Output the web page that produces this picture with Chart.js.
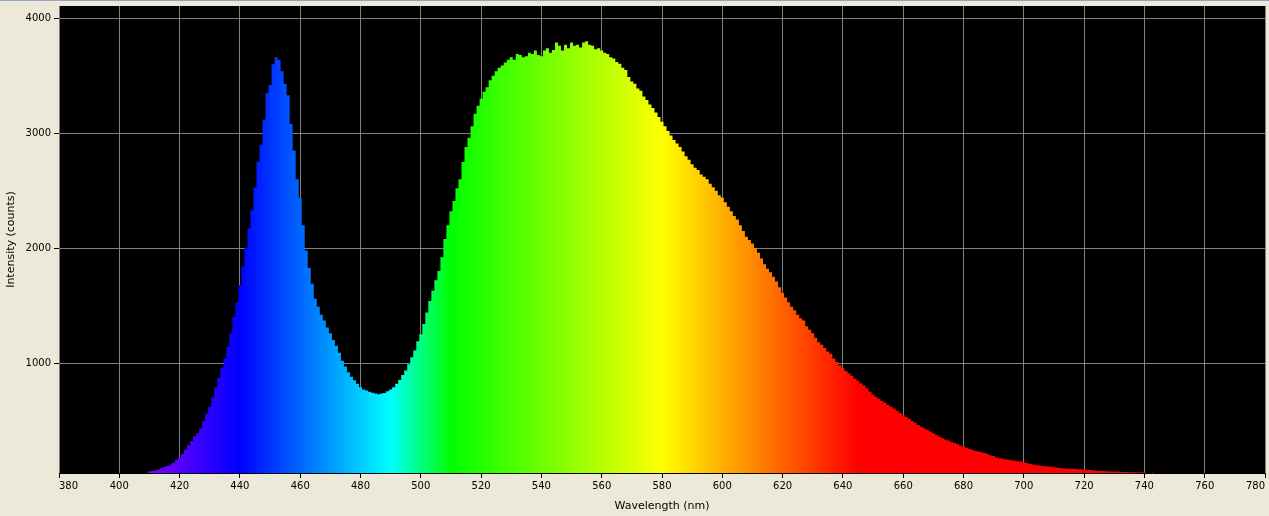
<!DOCTYPE html>
<html>
<head>
<meta charset="utf-8">
<script src="https://cdn.jsdelivr.net/npm/chart.js@4/dist/chart.umd.min.js"></script>
<style>
  html, body { margin: 0; padding: 0; background: #ECE9D8; }
  #wrap { position: relative; width: 1269px; height: 516px; }
  #topline { position: absolute; left: 0; top: 0; width: 1269px; height: 1px; background: #8EA4C8; }
</style>
</head>
<body>
<div id="wrap">
  <canvas id="specChart" width="1269" height="516"></canvas>
  <div id="topline"></div>
</div>
<script>
// ======================================================
// spectrum data (counts per nm)
// ======================================================
const xTicks = [380, 400, 420, 440, 460, 480, 500, 520, 540, 560, 580, 600, 620, 640, 660, 680, 700, 720, 740, 760, 780];
const yTicks = [1000, 2000, 3000, 4000];

// 409 .. 465 nm  (blue LED peak)
const blueStart = 409;
const blueBand = [45, 55, 60, 68, 74, 84, 95, 105, 118, 135, 158, 180, 210, 248, 285, 322, 365, 390, 430, 495,
  560, 620, 700, 790, 870, 960, 1040, 1140, 1260, 1400, 1530, 1680, 1840, 2000, 2170, 2330, 2530, 2750, 2900, 3120,
  3350, 3420, 3600, 3660, 3640, 3540, 3430, 3330, 3080, 2850, 2600, 2440, 2200, 1980, 1830, 1690, 1560];

// 466 .. 512 nm  (valley)
const dipStart = 466;
const dipBand = [1490, 1420, 1370, 1310, 1260, 1200, 1150, 1090, 1020, 970, 920, 880, 850, 820, 790, 770, 760,
  750, 742, 735, 728, 735, 740, 755, 770, 790, 820, 852, 895, 935, 990, 1050, 1110, 1190, 1250, 1340, 1440, 1540,
  1630, 1720, 1800, 1920, 2080, 2200, 2320, 2410, 2520];

// 513 .. 600 nm  (phosphor hump)
const greenStart = 513;
const greenBand = [2600, 2750, 2880, 2960, 3060, 3170, 3240, 3300, 3360, 3400, 3460, 3500, 3540, 3570, 3590, 3615,
  3640, 3660, 3640, 3690, 3680, 3660, 3670, 3700, 3690, 3720, 3680, 3670, 3720, 3740, 3700, 3725, 3790, 3760, 3720,
  3770, 3740, 3790, 3760, 3770, 3745, 3790, 3800, 3770, 3760, 3730, 3740, 3720, 3700, 3690, 3660, 3650, 3620, 3605,
  3570, 3550, 3490, 3450, 3430, 3390, 3370, 3320, 3290, 3250, 3220, 3180, 3140, 3100, 3060, 3020, 2980, 2940, 2910,
  2880, 2840, 2800, 2770, 2730, 2700, 2680, 2640, 2620, 2600, 2560, 2530, 2500, 2460, 2440];

// 601 .. 743 nm  (red tail)
const redStart = 601;
const redTail = [2400, 2360, 2320, 2280, 2250, 2200, 2150, 2100, 2070, 2040, 2000, 1960, 1910, 1860, 1820, 1790,
  1750, 1710, 1660, 1610, 1570, 1530, 1490, 1460, 1420, 1390, 1370, 1320, 1290, 1260, 1220, 1180, 1160, 1130, 1100,
  1080, 1040, 1010, 980, 955, 930, 910, 890, 865, 845, 825, 805, 780, 750, 725, 705, 690, 670, 655, 635, 620, 605,
  585, 565, 548, 530, 515, 495, 480, 460, 445, 432, 420, 405, 390, 375, 360, 348, 335, 325, 313, 305, 295, 282, 272,
  262, 252, 243, 236, 230, 224, 218, 208, 195, 190, 178, 172, 166, 160, 158, 154, 150, 146, 142, 136, 130, 124, 118,
  113, 108, 105, 102, 100, 98, 94, 90, 87, 85, 83, 81, 79, 77, 76, 75, 72, 70, 70, 66, 63, 61, 60, 58, 58, 56, 55,
  55, 54, 52, 51, 50, 50, 50, 49, 49, 48, 44, 44, 47];

const toPoints = (start, arr) => arr.map((v, i) => ({ x: start + i, y: v }));
const spectrum = [
  ...toPoints(blueStart, blueBand),
  ...toPoints(dipStart, dipBand),
  ...toPoints(greenStart, greenBand),
  ...toPoints(redStart, redTail)
];

// wavelength -> colour stops (visible spectrum)
const colourStops = [
  [380, '#FF00FF'], [440, '#0000FF'], [490, '#00FFFF'], [510, '#00FF00'],
  [580, '#FFFF00'], [645, '#FF0000'], [780, '#FF0000']
];

const spectrumFill = (context) => {
  const chart = context.chart;
  const { ctx, chartArea, scales } = chart;
  if (!chartArea) return '#00FF00';
  const x0 = scales.x.getPixelForValue(380);
  const x1 = scales.x.getPixelForValue(780);
  const g = ctx.createLinearGradient(x0, 0, x1, 0);
  colourStops.forEach(([w, c]) => g.addColorStop((w - 380) / 400, c));
  return g;
};

const plotBackground = {
  id: 'plotBackground',
  beforeDraw(chart) {
    const { ctx, chartArea } = chart;
    ctx.save();
    ctx.fillStyle = '#000000';
    ctx.fillRect(chartArea.left, chartArea.top, chartArea.right - chartArea.left, chartArea.bottom - chartArea.top);
    ctx.restore();
  }
};

const font = { family: 'DejaVu Sans', size: 10 };

new Chart(document.getElementById('specChart'), {
  type: 'line',
  data: {
    datasets: [{
      data: spectrum,
      stepped: 'middle',
      fill: 'origin',
      backgroundColor: spectrumFill,
      borderColor: 'rgba(0,0,0,0)',
      borderWidth: 0,
      pointRadius: 0
    }]
  },
  options: {
    responsive: false,
    animation: false,
    layout: { padding: { left: 0, top: 6, right: 4, bottom: 0 } },
    plugins: { legend: { display: false }, tooltip: { enabled: false } },
    scales: {
      x: {
        type: 'linear',
        min: 380,
        max: 780,
        afterBuildTicks: (s) => { s.ticks = xTicks.map(v => ({ value: v })); },
        afterFit: (s) => { s.height = 43; s.paddingLeft = 0; s.paddingRight = 0; },
        grid: { color: '#808080', tickColor: '#000000', tickLength: 5, lineWidth: 1 },
        border: { color: '#000000', width: 1 },
        ticks: { color: '#000000', font, padding: 2, maxRotation: 0, autoSkip: false, align: 'inner',
          callback: (v) => String(v) },
        title: { display: true, text: 'Wavelength (nm)', color: '#000000', font: { family: 'DejaVu Sans', size: 11 }, padding: { top: 1, bottom: 3 } }
      },
      y: {
        min: 43,
        max: 4107,
        afterBuildTicks: (s) => { s.ticks = yTicks.map(v => ({ value: v })); },
        afterFit: (s) => { s.width = 59; s.paddingTop = 0; s.paddingBottom = 0; },
        grid: { color: '#808080', tickColor: '#000000', tickLength: 5, lineWidth: 1 },
        border: { display: false },
        ticks: { color: '#000000', font, padding: 3, callback: (v) => String(v) },
        title: { display: true, text: 'Intensity (counts)', color: '#000000', font: { family: 'DejaVu Sans', size: 11 }, padding: { top: 5, bottom: 0 } }
      }
    }
  },
  plugins: [plotBackground]
});
</script>
</body>
</html>
